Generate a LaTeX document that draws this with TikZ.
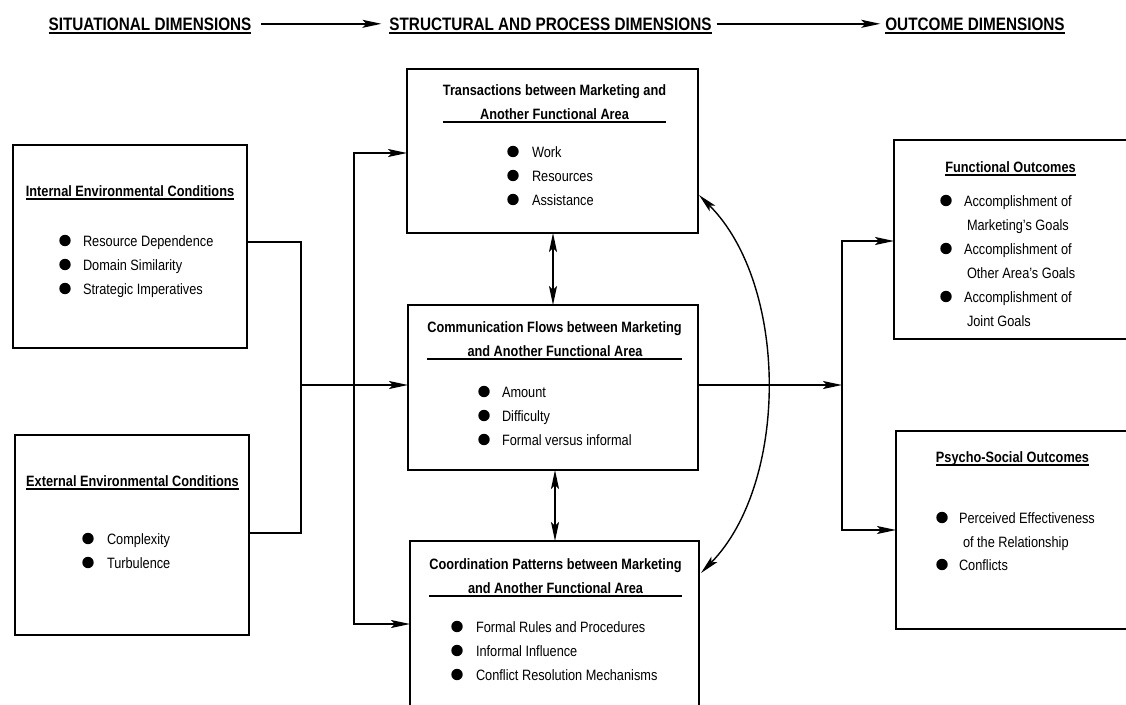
\documentclass[tikz,border=0pt]{standalone}
\usepackage{fontspec}
\setmainfont{Liberation Sans}[FakeStretch=0.85]
\usetikzlibrary{arrows.meta}

% bullet item: name, bullet x, text x, baseline y, text
\newcommand\bitem[5]{%
  \fill (#2,#4-5.5) circle[radius=5.7pt];
  \node[txt] (#1) at (#3,#4) {#5};}
% underline a text node
\newcommand\ulnode[1]{%
  \draw[line width=1.6pt] ([yshift=-3pt]#1.base west) -- ([yshift=-3pt]#1.base east);}

\begin{document}
\begin{tikzpicture}[x=1pt,y=-1pt,
  every node/.style={inner sep=0pt, outer sep=0pt},
  box/.style={draw, line width=1.5pt},
  txt/.style={font=\fontsize{15}{18}\selectfont, anchor=base west},
  ttl/.style={font=\fontsize{15}{18}\selectfont\bfseries, anchor=base},
  hdr/.style={font=\fontsize{18}{21}\selectfont\bfseries, anchor=base},
  ln/.style={line width=1.4pt},
  tip/.style={ln, -{Stealth[length=19pt,width=8pt,inset=4pt]}},
  tips/.style={ln, {Stealth[length=19pt,width=8pt,inset=4pt]}-{Stealth[length=19pt,width=8pt,inset=4pt]}}
]
\path[use as bounding box] (0,0) rectangle (1126,704);
\clip (0,0) rectangle (1126,704);

% ---- column headings
\node[hdr] (h1) at (150,30) {SITUATIONAL DIMENSIONS};
\node[hdr] (h2) at (550.5,30) {STRUCTURAL AND PROCESS DIMENSIONS};
\node[hdr] (h3) at (975,30) {OUTCOME DIMENSIONS};
\ulnode{h1}\ulnode{h2}\ulnode{h3}
\draw[tip, line width=1.6pt] ([xshift=10pt]h1.east) -- ([xshift=-8pt]h2.west);
\draw[tip, line width=1.6pt] ([xshift=5pt]h2.east) -- ([xshift=-5pt]h3.west);

% ---- boxes
\node[box, minimum width=234pt, minimum height=203pt] (ibox) at (130,246.5) {};
\node[box, minimum width=234pt, minimum height=200pt] (ebox) at (132,535) {};
\node[box, minimum width=291pt, minimum height=164pt] (tbox) at (552.5,151) {};
\node[box, minimum width=290pt, minimum height=165pt] (cbox) at (553,387.5) {};
\node[box, minimum width=289pt, minimum height=169pt] (dbox) at (554.5,625.5) {};
\node[box, minimum width=246pt, minimum height=199pt] (fbox) at (1017,239.5) {};
\node[box, minimum width=244pt, minimum height=198pt] (pbox) at (1018,530) {};

% ---- internal environmental conditions
\node[ttl] (it) at (130,196) {Internal Environmental Conditions};
\ulnode{it}
\bitem{i1}{65}{83}{246}{Resource Dependence}
\bitem{i2}{65}{83}{270}{Domain Similarity}
\bitem{i3}{65}{83}{294}{Strategic Imperatives}

% ---- external environmental conditions
\node[ttl] (et) at (132.5,486) {External Environmental Conditions};
\ulnode{et}
\bitem{e1}{88}{107}{544}{Complexity}
\bitem{e2}{88}{107}{568}{Turbulence}

% ---- transactions
\node[ttl] (tt1) at (554.5,95) {Transactions between Marketing and};
\node[ttl] (tt2) at (554.5,119) {Another Functional Area};
\draw[line width=1.4pt] (tt1.west |- 0,122) -- (tt1.east |- 0,122);
\bitem{t1}{513}{532}{157}{Work}
\bitem{t2}{513}{532}{181}{Resources}
\bitem{t3}{513}{532}{205}{Assistance}

% ---- communication flows
\node[ttl] (ct1) at (554.5,332) {Communication Flows between Marketing};
\node[ttl] (ct2) at (555,356) {and Another Functional Area};
\draw[line width=1.4pt] (ct1.west |- 0,359) -- (ct1.east |- 0,359);
\bitem{c1}{484}{502}{397}{Amount}
\bitem{c2}{484}{502}{421}{Difficulty}
\bitem{c3}{484}{502}{445}{Formal versus informal}

% ---- coordination patterns
\node[ttl] (dt1) at (555.5,569) {Coordination Patterns between Marketing};
\node[ttl] (dt2) at (555.5,593) {and Another Functional Area};
\draw[line width=1.4pt] (dt1.west |- 0,596) -- (dt1.east |- 0,596);
\bitem{d1}{457}{476}{632}{Formal Rules and Procedures}
\bitem{d2}{457}{476}{656}{Informal Influence}
\bitem{d3}{457}{476}{680}{Conflict Resolution Mechanisms}

% ---- functional outcomes
\node[ttl] (ft) at (1010.5,172) {Functional Outcomes};
\ulnode{ft}
\bitem{f1}{946}{964}{206}{Accomplishment of}
\node[txt] (f1b) at (967,230) {Marketing's Goals};
\bitem{f2}{946}{964}{254}{Accomplishment of}
\node[txt] (f2b) at (967,278) {Other Area's Goals};
\bitem{f3}{946}{964}{302}{Accomplishment of}
\node[txt] (f3b) at (967,326) {Joint Goals};

% ---- psycho-social outcomes
\node[ttl] (pt) at (1012.5,462) {Psycho-Social Outcomes};
\ulnode{pt}
\bitem{p1}{942}{959}{523}{Perceived Effectiveness}
\node[txt] (p1b) at (963,547) {of the Relationship};
\bitem{p2}{942}{959}{570}{Conflicts}

% ---- connectors, left side
\coordinate (jl) at (301,385);
\coordinate (sl) at (354,385);
\draw[ln] ([yshift=4.5pt]ibox.east) -| (jl) |- ([yshift=2pt]ebox.east);
\draw[tip] (jl) -- (jl -| cbox.west);
\draw[tips] ([yshift=-2pt]tbox.west) -| (sl) |- ([yshift=1.5pt]dbox.west);

% ---- connectors, centre
\draw[tips] ([xshift=0.5pt]tbox.south) -- ([xshift=0.5pt]tbox.south |- cbox.north);
\draw[tips] ([xshift=2pt]cbox.south) -- ([xshift=2pt]cbox.south |- dbox.north);
\draw[tips] ([xshift=1pt,yshift=-44pt]tbox.east) .. controls (789,285) and (789,483) .. ([xshift=2pt,yshift=52.5pt]dbox.east);

% ---- connectors, right side
\coordinate (sr) at (842,385);
\draw[tip] ([yshift=2.5pt]cbox.east) -- (sr);
\draw[tips] ([yshift=-1.5pt]fbox.west) -| (sr) |- (pbox.west);
\end{tikzpicture}
\end{document}
